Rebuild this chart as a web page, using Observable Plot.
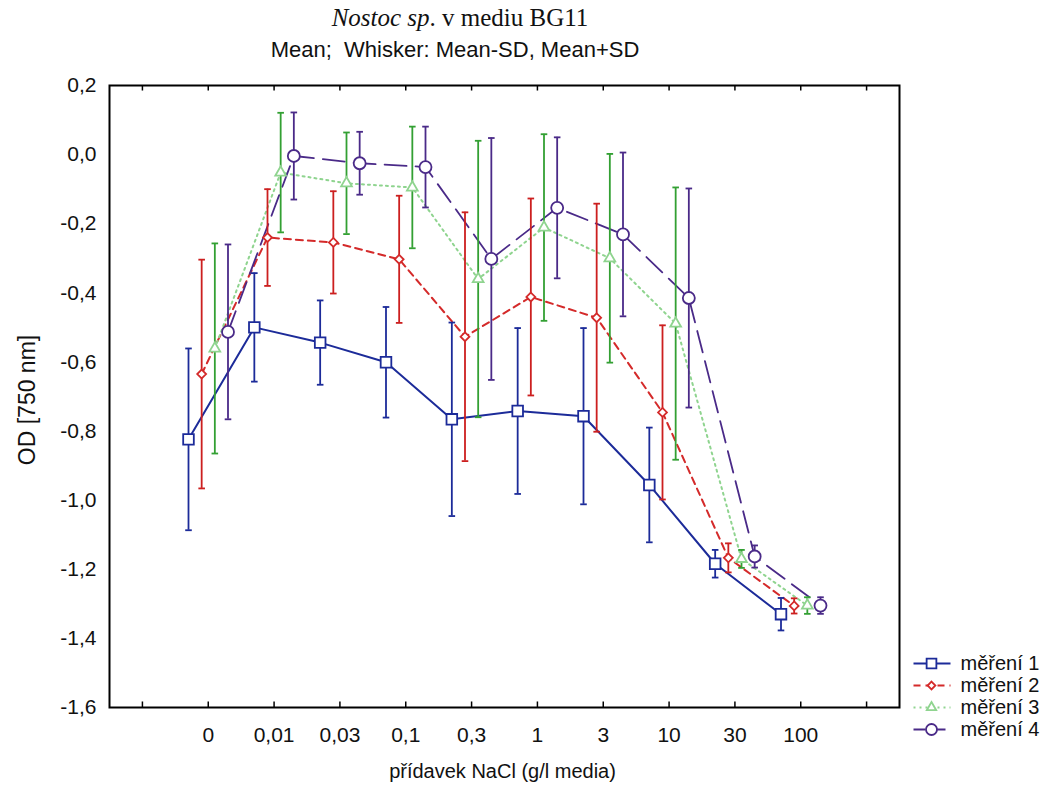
<!DOCTYPE html>
<html><head><meta charset="utf-8">
<script src="https://cdn.jsdelivr.net/npm/d3@7"></script>
<script src="https://cdn.jsdelivr.net/npm/@observablehq/plot@0.6"></script>
<style>
body{margin:0;background:#fff;}
#wrap{position:relative;width:1062px;height:789px;overflow:hidden;}
#chart{position:absolute;left:0;top:0;}
#title{position:absolute;top:3px;left:0;width:920px;text-align:center;font-family:"Liberation Serif","Times New Roman",serif;font-size:25px;line-height:30px;color:#111;}
#subtitle{position:absolute;top:37px;left:0;width:910px;text-align:center;font-family:"Liberation Sans",Arial,sans-serif;font-size:22px;line-height:26px;color:#111;}
#ylabel{position:absolute;left:27px;top:400px;transform:translate(-50%,-50%) rotate(-90deg);white-space:nowrap;font-family:"Liberation Sans",Arial,sans-serif;font-size:23px;line-height:26px;color:#111;}
#legend{position:absolute;left:905px;top:648px;}
</style></head><body>
<div id="wrap">
<div id="chart"></div>
<div id="title"><i>Nostoc sp</i>. v mediu BG11</div>
<div id="subtitle">Mean;&nbsp; Whisker: Mean-SD, Mean+SD</div>
<div id="ylabel"></div>
<div id="legend"></div>
</div>
<script>
const categories = ["0","0,01","0,03","0,1","0,3","1","3","10","30","100"];
const seriesNames = ["měření 1","měření 2","měření 3","měření 4"];
const mean1 = [-0.824,-0.500,-0.544,-0.601,-0.766,-0.742,-0.757,-0.956,-1.184,-1.330];
const sd1   = [0.263,0.157,0.122,0.160,0.280,0.240,0.255,0.166,0.040,0.047];
const mean2 = [-0.635,-0.240,-0.254,-0.303,-0.527,-0.412,-0.472,-0.746,-1.167,-1.306];
const sd2   = [0.331,0.140,0.148,0.184,0.360,0.285,0.330,0.252,0.042,0.022];
const mean3 = [-0.561,-0.052,-0.083,-0.095,-0.360,-0.211,-0.300,-0.489,-1.170,-1.305];
const sd3   = [0.304,0.173,0.147,0.176,0.400,0.270,0.302,0.394,0.026,0.024];
const mean4 = [-0.513,-0.004,-0.025,-0.036,-0.302,-0.154,-0.231,-0.415,-1.163,-1.305];
const sd4   = [0.253,0.126,0.091,0.117,0.350,0.204,0.237,0.317,0.032,0.024];
const yTicks = [0.2,0,-0.2,-0.4,-0.6,-0.8,-1.0,-1.2,-1.4,-1.6];
const xLabel = "přídavek NaCl (g/l media)";
const yLabel = "OD [750 nm]";
document.getElementById("ylabel").textContent = yLabel;

const means = [mean1, mean2, mean3, mean4];
const sds = [sd1, sd2, sd3, sd4];
const offsets = [-0.3, -0.1, 0.1, 0.3];
const styles = [
  {line:"#1c2b99", whisker:"#1c2b99", marker:"#1c2b99", dash:null, symbol:"square", r:6, width:2},
  {line:"#d42a2a", whisker:"#cc1f1f", marker:"#d42a2a", dash:"7,5", symbol:"diamond2", r:4, width:2},
  {line:"#8fd48f", whisker:"#33a033", marker:"#8fd48f", dash:"2,4", symbol:"triangle", r:4, width:2},
  {line:"#4a2a88", whisker:"#4a2a88", marker:"#4a2a88", dash:"22,9", symbol:"circle", r:6, width:1.8}
];
const rows = [];
means.forEach((m, s) => m.forEach((v, i) => rows.push({
  s, name: seriesNames[s], x: i + offsets[s], m: v, lo: v - sds[s][i], hi: v + sds[s][i]
})));

const xTickVals = d3.range(-1, 11);
const yMin = -1.6, yMax = 0.2;
const marks = [];
styles.forEach((st, s) => {
  const d = rows.filter(r => r.s === s);
  marks.push(Plot.line(d, {x:"x", y:"m", stroke: st.line, strokeWidth: st.width, strokeDasharray: st.dash}));
});
styles.forEach((st, s) => {
  const d = rows.filter(r => r.s === s);
  marks.push(Plot.ruleX(d, {x:"x", y1:"lo", y2:"hi", stroke: st.whisker, strokeWidth: 1.8}));
  marks.push(Plot.link(d, {x1: r => r.x - 0.05, x2: r => r.x + 0.05, y1:"hi", y2:"hi", stroke: st.whisker, strokeWidth: 1.8}));
  marks.push(Plot.link(d, {x1: r => r.x - 0.05, x2: r => r.x + 0.05, y1:"lo", y2:"lo", stroke: st.whisker, strokeWidth: 1.8}));
});
styles.forEach((st, s) => {
  const d = rows.filter(r => r.s === s);
  marks.push(Plot.dot(d, {x:"x", y:"m", symbol: st.symbol, r: st.r, stroke: st.marker, fill:"white", strokeWidth: 1.8}));
});

const chart = Plot.plot({
  width: 1062, height: 789,
  marginLeft: 109, marginRight: 163, marginTop: 85, marginBottom: 82,
  style: {fontFamily: '"Liberation Sans", Arial, sans-serif', fontSize: "21px", color: "#111", background: "white"},
  x: {type: "linear", domain: [-1.5, 10.5]},
  y: {domain: [yMin, yMax]},
  marks: [
    ...marks,
    Plot.ruleX(xTickVals, {x: d => d, y1: yMin, y2: yMin + 0.016, stroke: "black", strokeWidth: 1.5}),
    Plot.ruleX(xTickVals, {x: d => d, y1: yMax, y2: yMax - 0.016, stroke: "black", strokeWidth: 1.5}),
    Plot.frame({stroke: "black", strokeWidth: 2}),
    Plot.axisX({ticks: xTickVals, tickSize: 0, tickPadding: 20, tickFormat: i => categories[i] ?? "", label: null, fontSize: 21}),
    Plot.axisY({ticks: yTicks, tickSize: 0, tickPadding: 13, tickFormat: d => d.toFixed(1).replace(".", ","), label: null, fontSize: 21}),
    Plot.text([xLabel], {frameAnchor: "bottom", dy: 70, dx: -2, text: d => d, fontSize: 20})
  ]
});
document.getElementById("chart").appendChild(chart);

// legend
const legRows = seriesNames.map((n, s) => ({name: n, s}));
const legMarks = [];
styles.forEach((st, s) => {
  const d = legRows.filter(r => r.s === s);
  legMarks.push(Plot.link(d, {x1: 8, x2: 45, y1: "name", y2: "name", stroke: st.line, strokeWidth: st.width, strokeDasharray: st.dash ? (s === 3 ? "12,8" : st.dash) : null}));
  legMarks.push(Plot.dot(d, {x: 26, y: "name", symbol: st.symbol, r: st.r - 0.5, stroke: st.marker, fill: "white", strokeWidth: 1.8}));
});
legMarks.push(Plot.text(legRows, {x: 55, y: "name", text: "name", textAnchor: "start", fontSize: 20, fill: "#111"}));
const legend = Plot.plot({
  width: 157, height: 100, marginLeft: 0, marginRight: 0, marginTop: 14, marginBottom: 18,
  style: {fontFamily: '"Liberation Sans", Arial, sans-serif', background: "transparent"},
  x: {domain: [0, 157], axis: null},
  y: {type: "point", domain: seriesNames, axis: null, padding: 0},
  marks: legMarks
});
document.getElementById("legend").appendChild(legend);
</script>
</body></html>
